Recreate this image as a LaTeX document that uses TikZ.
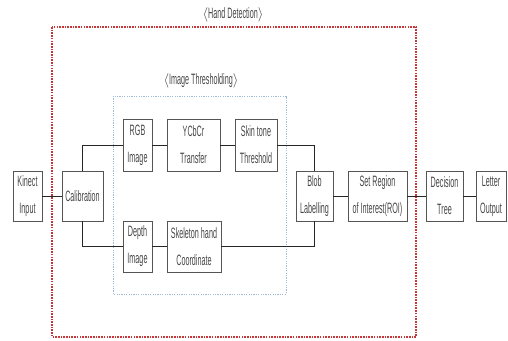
\documentclass[tikz,border=0pt]{standalone}
\usepackage{fontspec}
\setmainfont{Liberation Sans}[FakeStretch=0.48]
\definecolor{redd}{RGB}{200,55,55}
\definecolor{bluedot}{RGB}{160,185,215}
\definecolor{boxline}{RGB}{85,85,85}
\definecolor{txt}{RGB}{70,70,70}
\begin{document}
\begin{tikzpicture}[x=1pt,y=-1pt,
  blk/.style={draw=boxline,line width=0.9pt,fill=white,inner sep=0pt,align=center,
    text=txt,font=\fontsize{15}{27}\selectfont},
  conn/.style={draw=black!85,line width=0.9pt},
  lbl/.style={text=txt,inner sep=0pt,font=\fontsize{15}{17}\selectfont}]
\useasboundingbox (0,0) rectangle (508,340);
% group frames
\draw[redd,line width=1.7pt,dash pattern=on 1.6pt off 1.1pt] (52,27) rectangle (416,337);
\draw[bluedot,line width=1pt,dash pattern=on 1.2pt off 1.2pt] (113,96) rectangle (286,294);
\node[lbl] (hd) at (233,15) {$\langle$Hand Detection$\rangle$};
\node[lbl] (it) at (201,81) {$\langle$Image Thresholding$\rangle$};
% boxes
\node[blk,minimum width=29pt,minimum height=50pt] (kin) at (27.5,196) {Kinect\\Input};
\node[blk,minimum width=41pt,minimum height=50pt] (cal) at (82.5,196) {Calibration};
\node[blk,minimum width=29pt,minimum height=52pt] (rgb) at (137.5,145) {RGB\\Image};
\node[blk,minimum width=53pt,minimum height=52pt] (ycc) at (193.5,145) {YCbCr\\Transfer};
\node[blk,minimum width=42pt,minimum height=52pt] (skin) at (256,145) {Skin tone\\Threshold};
\node[blk,minimum width=29pt,minimum height=51pt] (dep) at (137.5,246.5) {Depth\\Image};
\node[blk,minimum width=54pt,minimum height=51pt] (skel) at (194,246.5) {Skeleton hand\\Coordinate};
\node[blk,minimum width=37pt,minimum height=50pt] (blob) at (314.5,196) {Blob\\Labelling};
\node[blk,minimum width=59pt,minimum height=50pt] (roi) at (377.5,196) {Set Region\\of Interest(ROI)};
\node[blk,minimum width=37pt,minimum height=50pt] (dt) at (444.5,196) {Decision\\Tree};
\node[blk,minimum width=30pt,minimum height=50pt] (let) at (491,196) {Letter\\Output};
% connectors
\draw[conn] (kin) -- (cal);
\draw[conn] (cal.north) |- (rgb.west);
\draw[conn] (cal.south) |- (dep.west);
\draw[conn] (rgb) -- (ycc);
\draw[conn] (ycc) -- (skin);
\draw[conn] (skin.east) -| (blob.north);
\draw[conn] (dep) -- (skel);
\draw[conn] (skel.east) -| (blob.south);
\draw[conn] (blob) -- (roi);
\draw[conn] (roi) -- (dt);
\draw[conn] (dt) -- (let);
\end{tikzpicture}
\end{document}
